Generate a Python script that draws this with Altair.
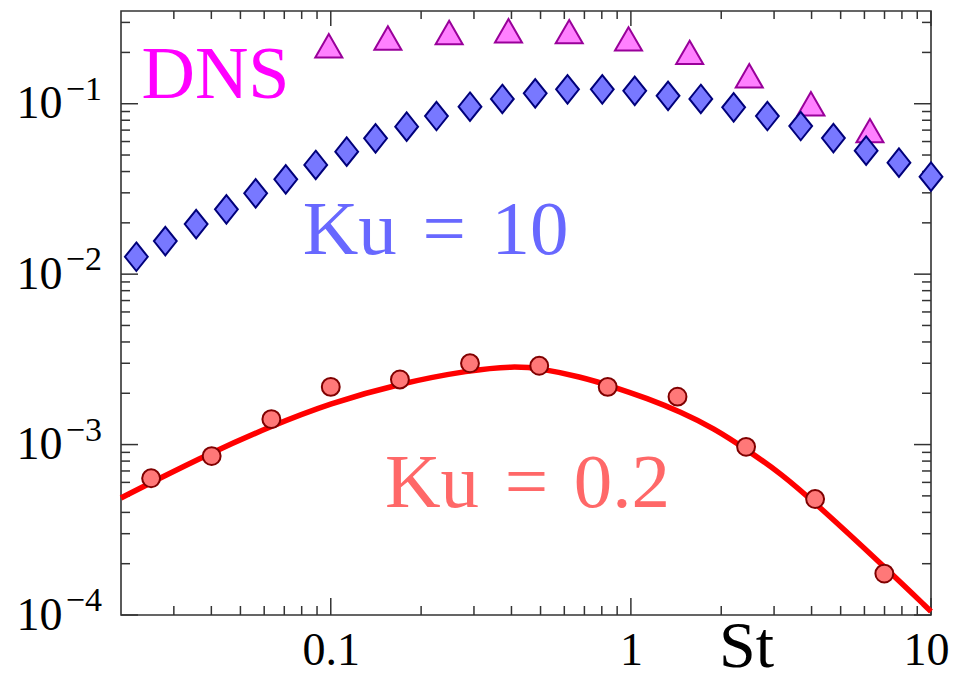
import altair as alt
import pandas as pd

# ---------------- data ----------------
# Ku = 10 (blue diamonds)
st_ku10 = [0.0225, 0.0281, 0.0356, 0.0449, 0.0562, 0.0708, 0.0891, 0.113, 0.141,
           0.179, 0.225, 0.291, 0.373, 0.480, 0.615, 0.803, 1.03, 1.33, 1.71,
           2.20, 2.85, 3.68, 4.73, 6.08, 7.82, 10.0]
val_ku10 = [0.01265, 0.01563, 0.01967, 0.0240, 0.0298, 0.0360, 0.0437, 0.0523,
            0.0627, 0.0733, 0.0847, 0.0960, 0.1066, 0.1151, 0.1215, 0.1215,
            0.1191, 0.1113, 0.1066, 0.0953, 0.0847, 0.0740, 0.0629, 0.0530,
            0.0451, 0.0373]

# DNS (magenta triangles)
st_dns = [0.0985, 0.155, 0.248, 0.391, 0.623, 0.982, 1.57, 2.48, 3.98, 6.26]
val_dns = [0.219, 0.243, 0.262, 0.268, 0.265, 0.240, 0.200, 0.146, 0.100, 0.0695]

# Ku = 0.2 (red circles)
st_ku02 = [0.0252, 0.0401, 0.0634, 0.100, 0.170, 0.291, 0.495, 0.837, 1.43,
           2.42, 4.11, 6.99]
val_ku02 = [6.34e-4, 8.56e-4, 1.41e-3, 2.18e-3, 2.41e-3, 3.00e-3, 2.90e-3,
            2.18e-3, 1.91e-3, 9.70e-4, 4.79e-4, 1.75e-4]

# Ku = 0.2 model curve (red line)
st_fit = [0.020, 0.0255, 0.0395, 0.0625, 0.0992, 0.170, 0.291, 0.406, 0.499,
          0.678, 0.876, 1.133, 1.463, 1.890, 2.443, 3.157, 4.11, 6.99, 10.0]
val_fit = [4.86e-4, 6.05e-4, 8.88e-4, 1.272e-3, 1.745e-3, 2.287e-3, 2.736e-3,
           2.888e-3, 2.80e-3, 2.50e-3, 2.184e-3, 1.866e-3, 1.558e-3, 1.245e-3,
           9.28e-4, 6.78e-4, 4.55e-4, 1.92e-4, 1.05e-4]

# in-plot labels
label_text = ["DNS", "Ku\u2004=\u200410", "Ku\u2004=\u20040.2"]
label_st = [0.0234, 0.0806, 0.1515]
label_val = [0.108, 0.01312, 4.32e-4]
label_color = ["#ff00ff", "#6868ff", "#ff6868"]
label_size = [74, 77, 77]

# axis ticks
x_major = [0.1, 1, 10]
x_minor = [0.03, 0.04, 0.05, 0.06, 0.07, 0.08, 0.09,
           0.2, 0.3, 0.4, 0.5, 0.6, 0.7, 0.8, 0.9,
           2, 3, 4, 5, 6, 7, 8, 9]
y_major = [1e-4, 1e-3, 1e-2, 1e-1]
y_minor = [2e-4, 3e-4, 4e-4, 5e-4, 6e-4, 7e-4, 8e-4, 9e-4,
           2e-3, 3e-3, 4e-3, 5e-3, 6e-3, 7e-3, 8e-3, 9e-3,
           2e-2, 3e-2, 4e-2, 5e-2, 6e-2, 7e-2, 8e-2, 9e-2,
           0.2, 0.3]
y_sup = ["\u22124", "\u22123", "\u22122", "\u22121"]

# ---------------- chart ----------------
W, H = 810, 604
serif = "Liberation Serif"
frame = "#333333"

xs = alt.Scale(type="log", domain=[0.02, 10], nice=False)
ys = alt.Scale(type="log", domain=[1e-4, 0.35], nice=False)

xaxis = alt.Axis(
    values=x_major,
    labelExpr="datum.value < 0.5 ? '0.1' : (datum.value < 5 ? '1' : '10')",
    title="St", titleFont=serif, titleFontSize=66, titleFontWeight="normal",
    titleColor="black", titleX=625, titleY=51, titleBaseline="alphabetic",
    titleAlign="center",
    labelFont=serif, labelFontSize=46, labelColor="black", labelPadding=13,
    ticks=False, tickSize=0, domain=False, grid=False,
    labelFlush=True, labelFlushOffset=18, labelOverlap=False,
)
yaxis = alt.Axis(
    values=y_major, labelExpr="'10'", title=None,
    labelFont=serif, labelFontSize=46, labelColor="black", labelPadding=59,
    ticks=False, tickSize=0, domain=False, grid=False,
    labelFlush=False, labelOverlap=False,
)

X = alt.X("st:Q", scale=xs, axis=xaxis)
Y = alt.Y("val:Q", scale=ys, axis=yaxis)

df_ku10 = pd.DataFrame({"st": st_ku10, "val": val_ku10})
df_dns = pd.DataFrame({"st": st_dns, "val": val_dns})
df_ku02 = pd.DataFrame({"st": st_ku02, "val": val_ku02})
df_fit = pd.DataFrame({"st": st_fit, "val": val_fit})
df_xmaj = pd.DataFrame({"st": x_major})
df_xmin = pd.DataFrame({"st": x_minor})
df_ymaj = pd.DataFrame({"val": y_major})
df_ymin = pd.DataFrame({"val": y_minor})
df_sup = pd.DataFrame({"val": y_major, "sup": y_sup})

diamond = "M0,-1.25L1,0L0,1.25L-1,0Z"
triangle = "M0,-0.866L1,0.866L-1,0.866Z"

fit_line = alt.Chart(df_fit).mark_line(
    color="#ff0000", strokeWidth=5.5, interpolate="basis", clip=False
).encode(x=X, y=Y)

circles = alt.Chart(df_ku02).mark_point(
    shape="circle", size=320, filled=True, fill="#ff7878", fillOpacity=1,
    stroke="#800000", strokeWidth=2, opacity=1
).encode(x=X, y=Y)

triangles = alt.Chart(df_dns).mark_point(
    shape=triangle, size=730, filled=True, fill="#ff80ff", fillOpacity=1,
    stroke="#99009a", strokeWidth=2, opacity=1
).encode(x=X, y=Y)

diamonds = alt.Chart(df_ku10).mark_point(
    shape=diamond, size=520, filled=True, fill="#7878ff", fillOpacity=1,
    stroke="#00007a", strokeWidth=2, opacity=1
).encode(x=X, y=Y)

labels = [
    alt.Chart(pd.DataFrame({"st": [label_st[i]], "val": [label_val[i]],
                            "text": [label_text[i]]})).mark_text(
        font=serif, fontSize=label_size[i], align="left", baseline="alphabetic",
        color=label_color[i]
    ).encode(x=X, y=Y, text="text:N")
    for i in range(3)
]

sups = alt.Chart(df_sup).mark_text(
    font=serif, fontSize=34, align="right", baseline="alphabetic",
    color="black", dy=-4
).encode(y=Y, x=alt.value(-19), text="sup:N")

tick_style = dict(color=frame, strokeWidth=1.5)
ticks = [
    # left
    alt.Chart(df_ymaj).mark_rule(**tick_style).encode(y=Y, x=alt.value(0), x2=alt.value(17)),
    alt.Chart(df_ymin).mark_rule(**tick_style).encode(y=Y, x=alt.value(0), x2=alt.value(9)),
    # right
    alt.Chart(df_ymaj).mark_rule(**tick_style).encode(y=Y, x=alt.value(W), x2=alt.value(W - 17)),
    alt.Chart(df_ymin).mark_rule(**tick_style).encode(y=Y, x=alt.value(W), x2=alt.value(W - 9)),
    # bottom
    alt.Chart(df_xmaj).mark_rule(**tick_style).encode(x=X, y=alt.value(H), y2=alt.value(H - 17)),
    alt.Chart(df_xmin).mark_rule(**tick_style).encode(x=X, y=alt.value(H), y2=alt.value(H - 9)),
    # top
    alt.Chart(df_xmaj).mark_rule(**tick_style).encode(x=X, y=alt.value(0), y2=alt.value(15)),
    alt.Chart(df_xmin).mark_rule(**tick_style).encode(x=X, y=alt.value(0), y2=alt.value(8)),
]

chart = alt.layer(
    *ticks, fit_line, circles, triangles, diamonds, *labels, sups
).properties(
    width=W, height=H,
    autosize=alt.AutoSizeParams(type="none"),
    padding={"left": 113, "top": 3, "right": 18, "bottom": 65},
    background="white",
).configure_view(
    stroke=frame, strokeWidth=1.6
)

chart.save("out.html", embed_options={"renderer": "svg", "actions": False})
